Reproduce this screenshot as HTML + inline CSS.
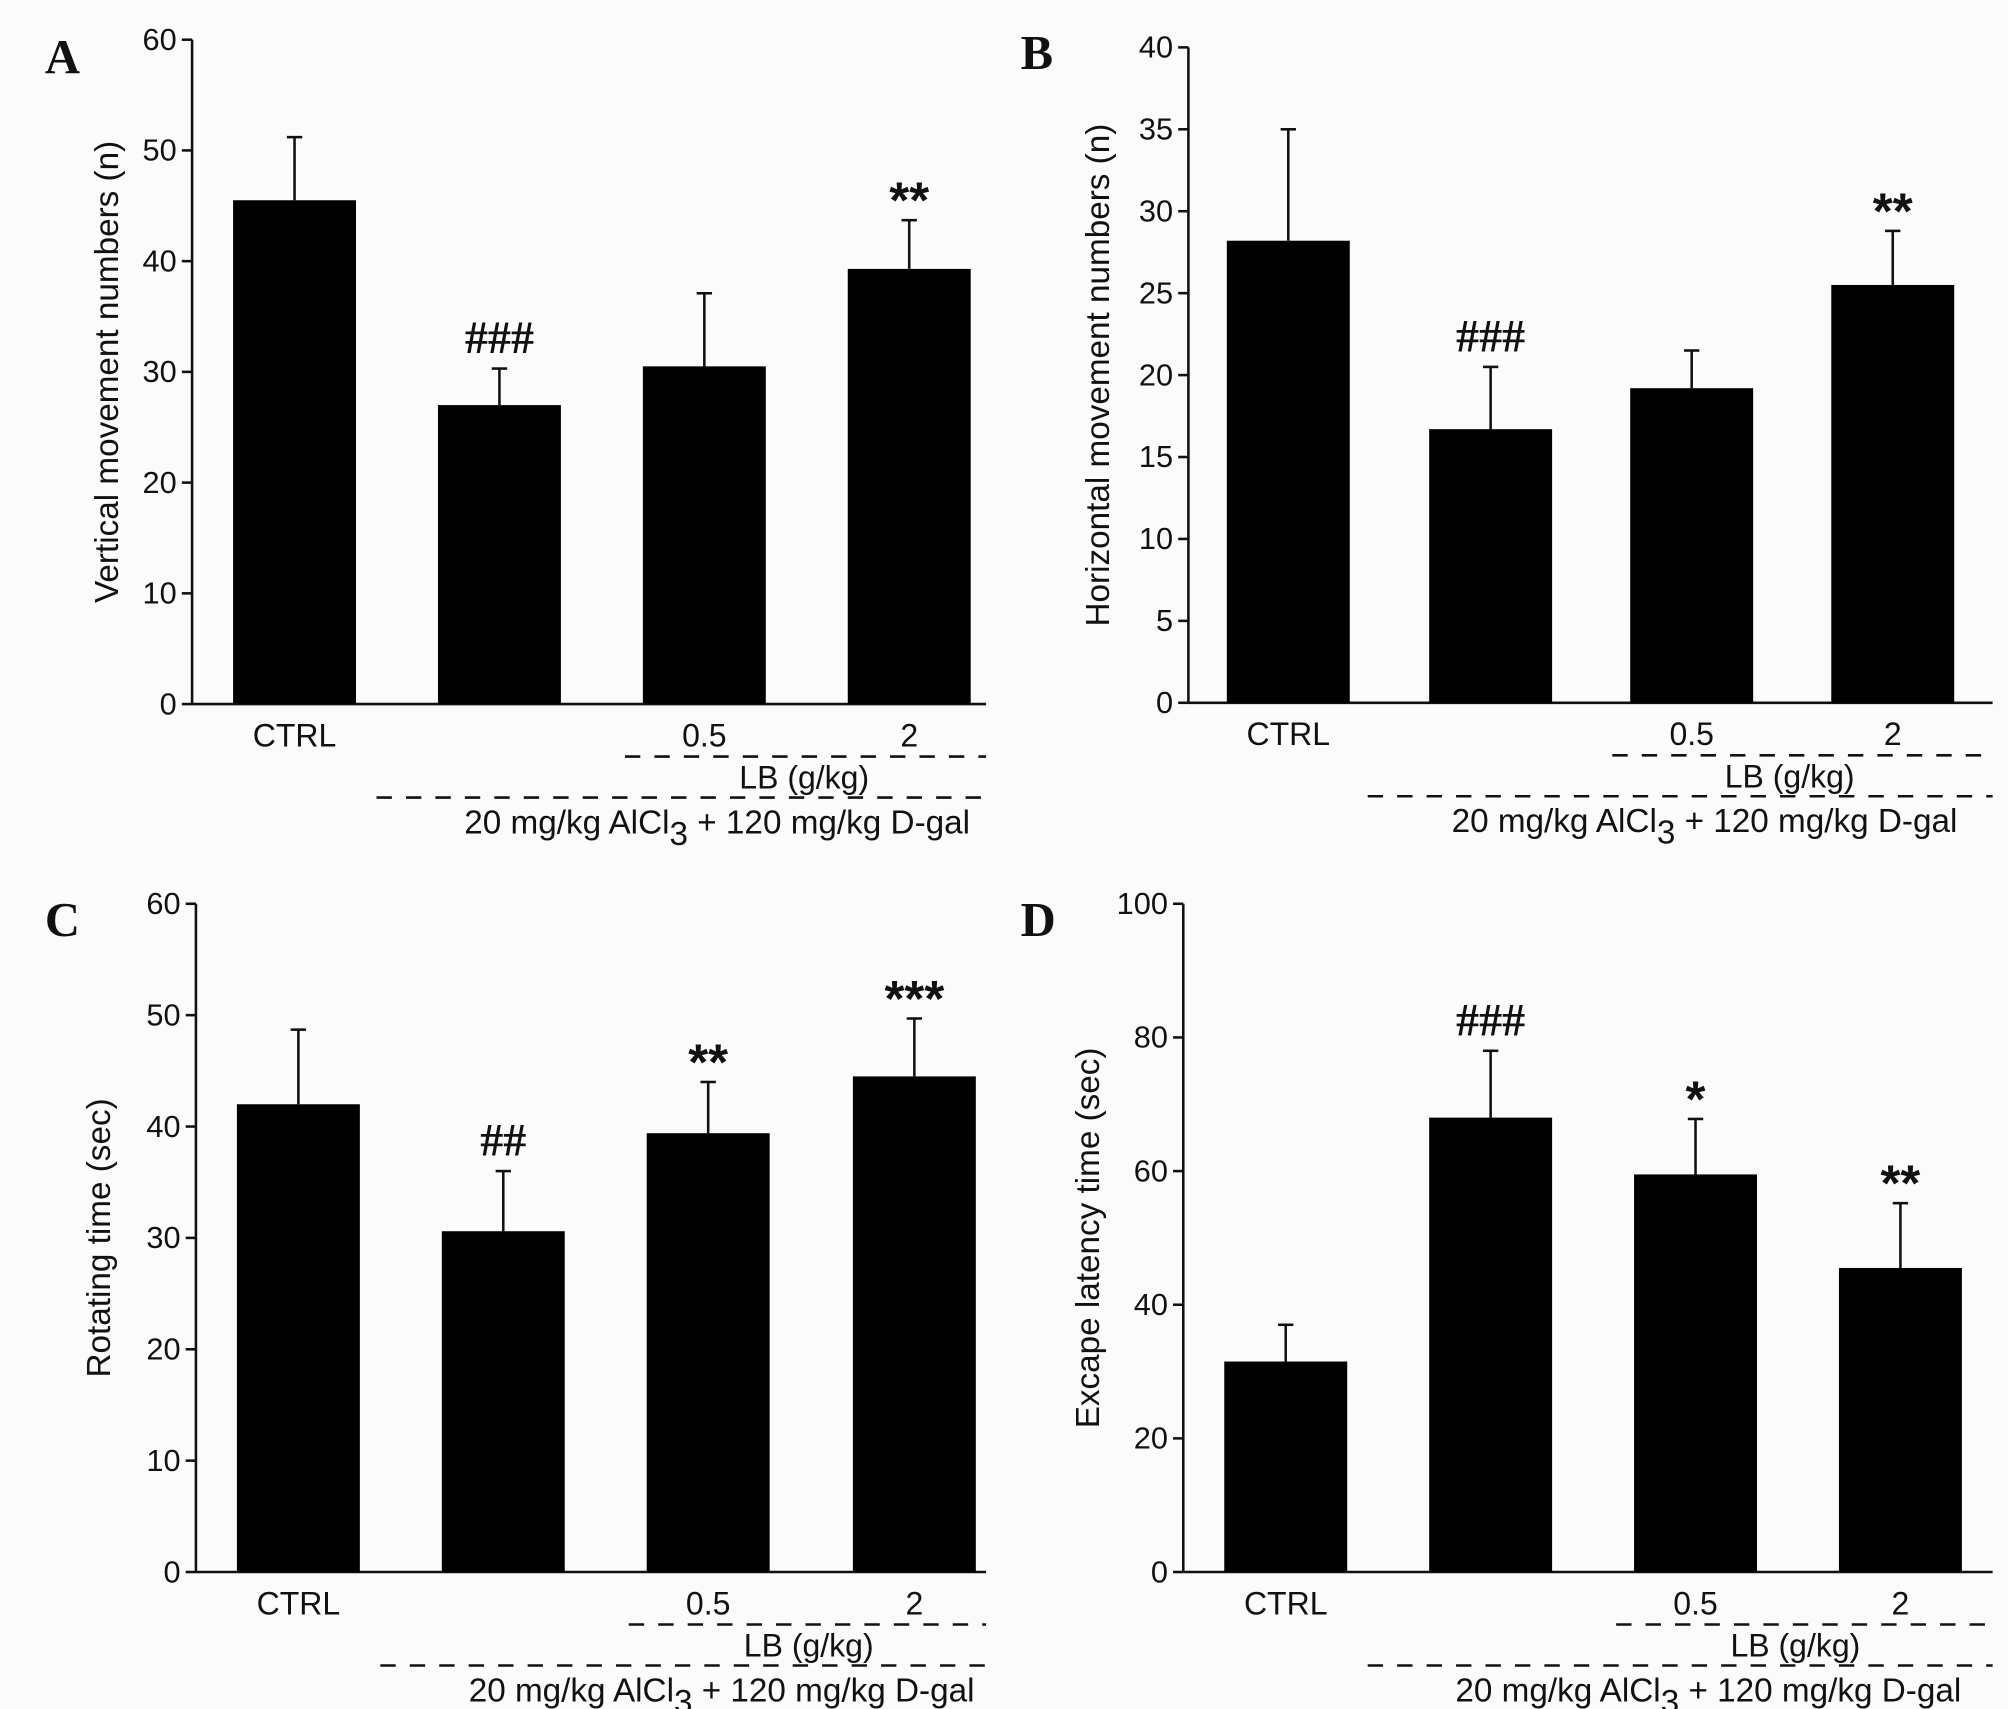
<!DOCTYPE html>
<html><head><meta charset="utf-8">
<style>
html,body{margin:0;padding:0;background:#fff;}
svg{display:block;}
text{fill:#111;}
</style></head>
<body>
<svg id="fig" width="2008" height="1709" viewBox="0 0 1568 1335" preserveAspectRatio="none" xmlns="http://www.w3.org/2000/svg">
<rect x="0" y="0" width="1568" height="1335" fill="#fbfbfb"/>
</svg>
<script>
// Data arrays
const categories = ["CTRL", "Model", "LB 0.5", "LB 2"];
const valuesA = [45.5, 27.0, 30.5, 39.3];
const errorsA = [5.7, 3.3, 6.6, 4.4];
const annotA = ["", "###", "", "**"];
const ticksA = [0, 10, 20, 30, 40, 50, 60];
const valuesB = [28.2, 16.7, 19.2, 25.5];
const errorsB = [6.8, 3.8, 2.3, 3.3];
const annotB = ["", "###", "", "**"];
const ticksB = [0, 5, 10, 15, 20, 25, 30, 35, 40];
const valuesC = [42.0, 30.6, 39.4, 44.5];
const errorsC = [6.7, 5.4, 4.6, 5.2];
const annotC = ["", "##", "**", "***"];
const ticksC = [0, 10, 20, 30, 40, 50, 60];
const valuesD = [31.5, 68.0, 59.5, 45.5];
const errorsD = [5.5, 10.0, 8.3, 9.7];
const annotD = ["", "###", "*", "**"];
const ticksD = [0, 20, 40, 60, 80, 100];

const NS = "http://www.w3.org/2000/svg";
const svg = document.getElementById("fig");
const SANS = "font-family:'Liberation Sans',sans-serif;";
const SERIF = "font-family:'Liberation Serif',serif;";
function mk(tag, attrs, parent) {
  const e = document.createElementNS(NS, tag);
  for (const k in attrs) e.setAttribute(k, attrs[k]);
  (parent || svg).appendChild(e);
  return e;
}
function txt(s, attrs, parent) { const t = mk("text", attrs, parent); t.textContent = s; return t; }

function panel(cfg, values, errors, annots, ticks) {
  const g = mk("g", {});
  
  
  const max = ticks[ticks.length - 1];
  const y = v => cfg.y0 - (v / max) * (cfg.y0 - cfg.yTop);
  const pl = txt(cfg.id.toUpperCase(), {x: cfg.lx, y: cfg.ly, style: SERIF + "font-size:38px;font-weight:bold;"}, g);
  
  
  const ya = mk("line", {x1: cfg.ax, y1: cfg.yTop, x2: cfg.ax, y2: cfg.y0, stroke: "#111", "stroke-width": 2}, g);
  
  
  const xa = mk("line", {x1: cfg.ax, y1: cfg.y0, x2: cfg.axEnd, y2: cfg.y0, stroke: "#111", "stroke-width": 2}, g);
  
  
  ticks.forEach(t => {
    mk("line", {x1: cfg.ax - 8, y1: y(t), x2: cfg.ax, y2: y(t), stroke: "#111", "stroke-width": 2}, g);
    const tl = txt(String(t), {x: cfg.ax - 12, y: y(t) + 8, "text-anchor": "end", style: SANS + "font-size:24px;"}, g);
    
    
  });
  const yt = txt(cfg.title, {x: 0, y: 0, "text-anchor": "middle", style: SANS + "font-size:26px;", transform: `translate(${cfg.tx},${(cfg.yTop + cfg.y0) / 2}) rotate(-90)`}, g);
  
  
  values.forEach((v, i) => {
    const bx = cfg.bx[i], bw = 96;
    const cx = bx + bw / 2;
    const top = y(v), etop = y(v + errors[i]);
    const el = mk("line", {x1: cx, y1: top, x2: cx, y2: etop, stroke: "#111", "stroke-width": 2}, g);
    
    
    mk("line", {x1: cx - 6, y1: etop, x2: cx + 6, y2: etop, stroke: "#111", "stroke-width": 2}, g);
    const r = mk("rect", {x: bx, y: top, width: bw, height: cfg.y0 - top, fill: "#000"}, g);
    
    
    if (annots[i]) {
      const isHash = annots[i][0] === "#";
      const a = txt(annots[i], {x: cx, y: etop - (isHash ? 12 : 2), "text-anchor": "middle",
        style: isHash ? SERIF + "font-size:36px;font-weight:bold;" : SANS + "font-size:40px;font-weight:bold;"}, g);
      
      
    }
  });
  const c = i => cfg.bx[i] + 48;
  const lab = SANS + "font-size:25px;";
  const l1 = txt("CTRL", {x: c(0), y: cfg.y0 + 33, "text-anchor": "middle", style: lab}, g);
  
  
  const l2 = txt("0.5", {x: c(2), y: cfg.y0 + 33, "text-anchor": "middle", style: lab}, g);
  
  
  const l3 = txt("2", {x: c(3), y: cfg.y0 + 33, "text-anchor": "middle", style: lab}, g);
  
  
  const d1 = mk("line", {x1: cfg.bx[2] - 14, y1: cfg.y0 + 41, x2: cfg.axEnd, y2: cfg.y0 + 41, stroke: "#111", "stroke-width": 2, "stroke-dasharray": "12 11"}, g);
  
  
  const lb = txt("LB (g/kg)", {x: (cfg.bx[2] + cfg.bx[3] + 96) / 2 - 2, y: cfg.y0 + 66, "text-anchor": "middle", style: lab}, g);
  
  
  const d2 = mk("line", {x1: cfg.bx[1] - 48, y1: cfg.y0 + 73, x2: cfg.axEnd, y2: cfg.y0 + 73, stroke: "#111", "stroke-width": 2, "stroke-dasharray": "12 11"}, g);
  
  
  const tr = txt("", {x: (cfg.bx[1] + cfg.bx[3] + 96) / 2 + 10, y: cfg.y0 + 101, "text-anchor": "middle", style: SANS + "font-size:26px;"}, g);
  
  
  const s1 = mk("tspan", {}, tr); s1.textContent = "20 mg/kg AlCl";
  const s2 = mk("tspan", {dy: 9}, tr); s2.textContent = "3";
  const s3 = mk("tspan", {dy: -9}, tr); s3.textContent = " + 120 mg/kg D-gal";
}

panel({id: "a", lx: 35, ly: 57, ax: 150, axEnd: 770, y0: 550, yTop: 31, tx: 92, bx: [182, 342, 502, 662], title: "Vertical movement numbers (n)"}, valuesA, errorsA, annotA, ticksA);
panel({id: "b", lx: 797, ly: 54, ax: 928, axEnd: 1556, y0: 549, yTop: 37, tx: 866, bx: [958, 1116, 1273, 1430], title: "Horizontal movement numbers (n)"}, valuesB, errorsB, annotB, ticksB);
panel({id: "c", lx: 35, ly: 731, ax: 153, axEnd: 770, y0: 1228, yTop: 706, tx: 86, bx: [185, 345, 505, 666], title: "Rotating time (sec)"}, valuesC, errorsC, annotC, ticksC);
panel({id: "d", lx: 797, ly: 731, ax: 924, axEnd: 1556, y0: 1228, yTop: 706, tx: 858, bx: [956, 1116, 1276, 1436], title: "Excape latency time (sec)"}, valuesD, errorsD, annotD, ticksD);
</script>
</body></html>
